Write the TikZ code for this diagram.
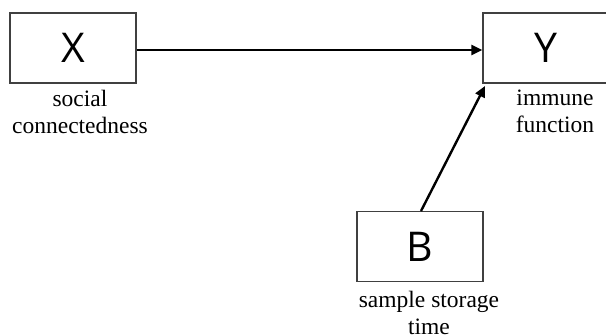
\documentclass[tikz,border=0pt]{standalone}
\usepackage{fontspec}
\setmainfont{Liberation Serif}
\newfontfamily\letterfont{Open Sans}
\usetikzlibrary{arrows.meta}
\begin{document}
\begin{tikzpicture}[x=1pt,y=-1pt,
  varbox/.style={draw=black!75, line width=1.1pt, minimum width=126pt, minimum height=70pt,
    inner sep=0pt, font=\letterfont\fontsize{41}{41}\selectfont},
  caption/.style={align=center, font=\fontsize{23.5}{27}\selectfont, inner sep=0pt},
  link/.style={line width=2.4pt, -{Triangle[length=11pt,width=10pt]}}]
  \useasboundingbox (0,0) rectangle (606,335);
  % variable boxes
  \node[varbox] (X) at (73,48) {X};
  \node[varbox] (Y) at (546,48) {Y};
  \node[varbox] (B) at (420,246.5) {B};
  % captions under the boxes
  \node[caption, anchor=north] (Xl) at (80,90) {social\\connectedness};
  \node[caption, anchor=north] (Yl) at (555,90) {immune\\function};
  \node[caption, anchor=north] (Bl) at (429,291) {sample storage\\time};
  % causal links
  \draw[link] (X.east |- 0,50) -- (Y.west |- 0,50);
  \coordinate (Bt) at (421,211);
  \coordinate (Yc) at (485,86);
  \draw[link] (Bt) -- (Yc);
\end{tikzpicture}
\end{document}
